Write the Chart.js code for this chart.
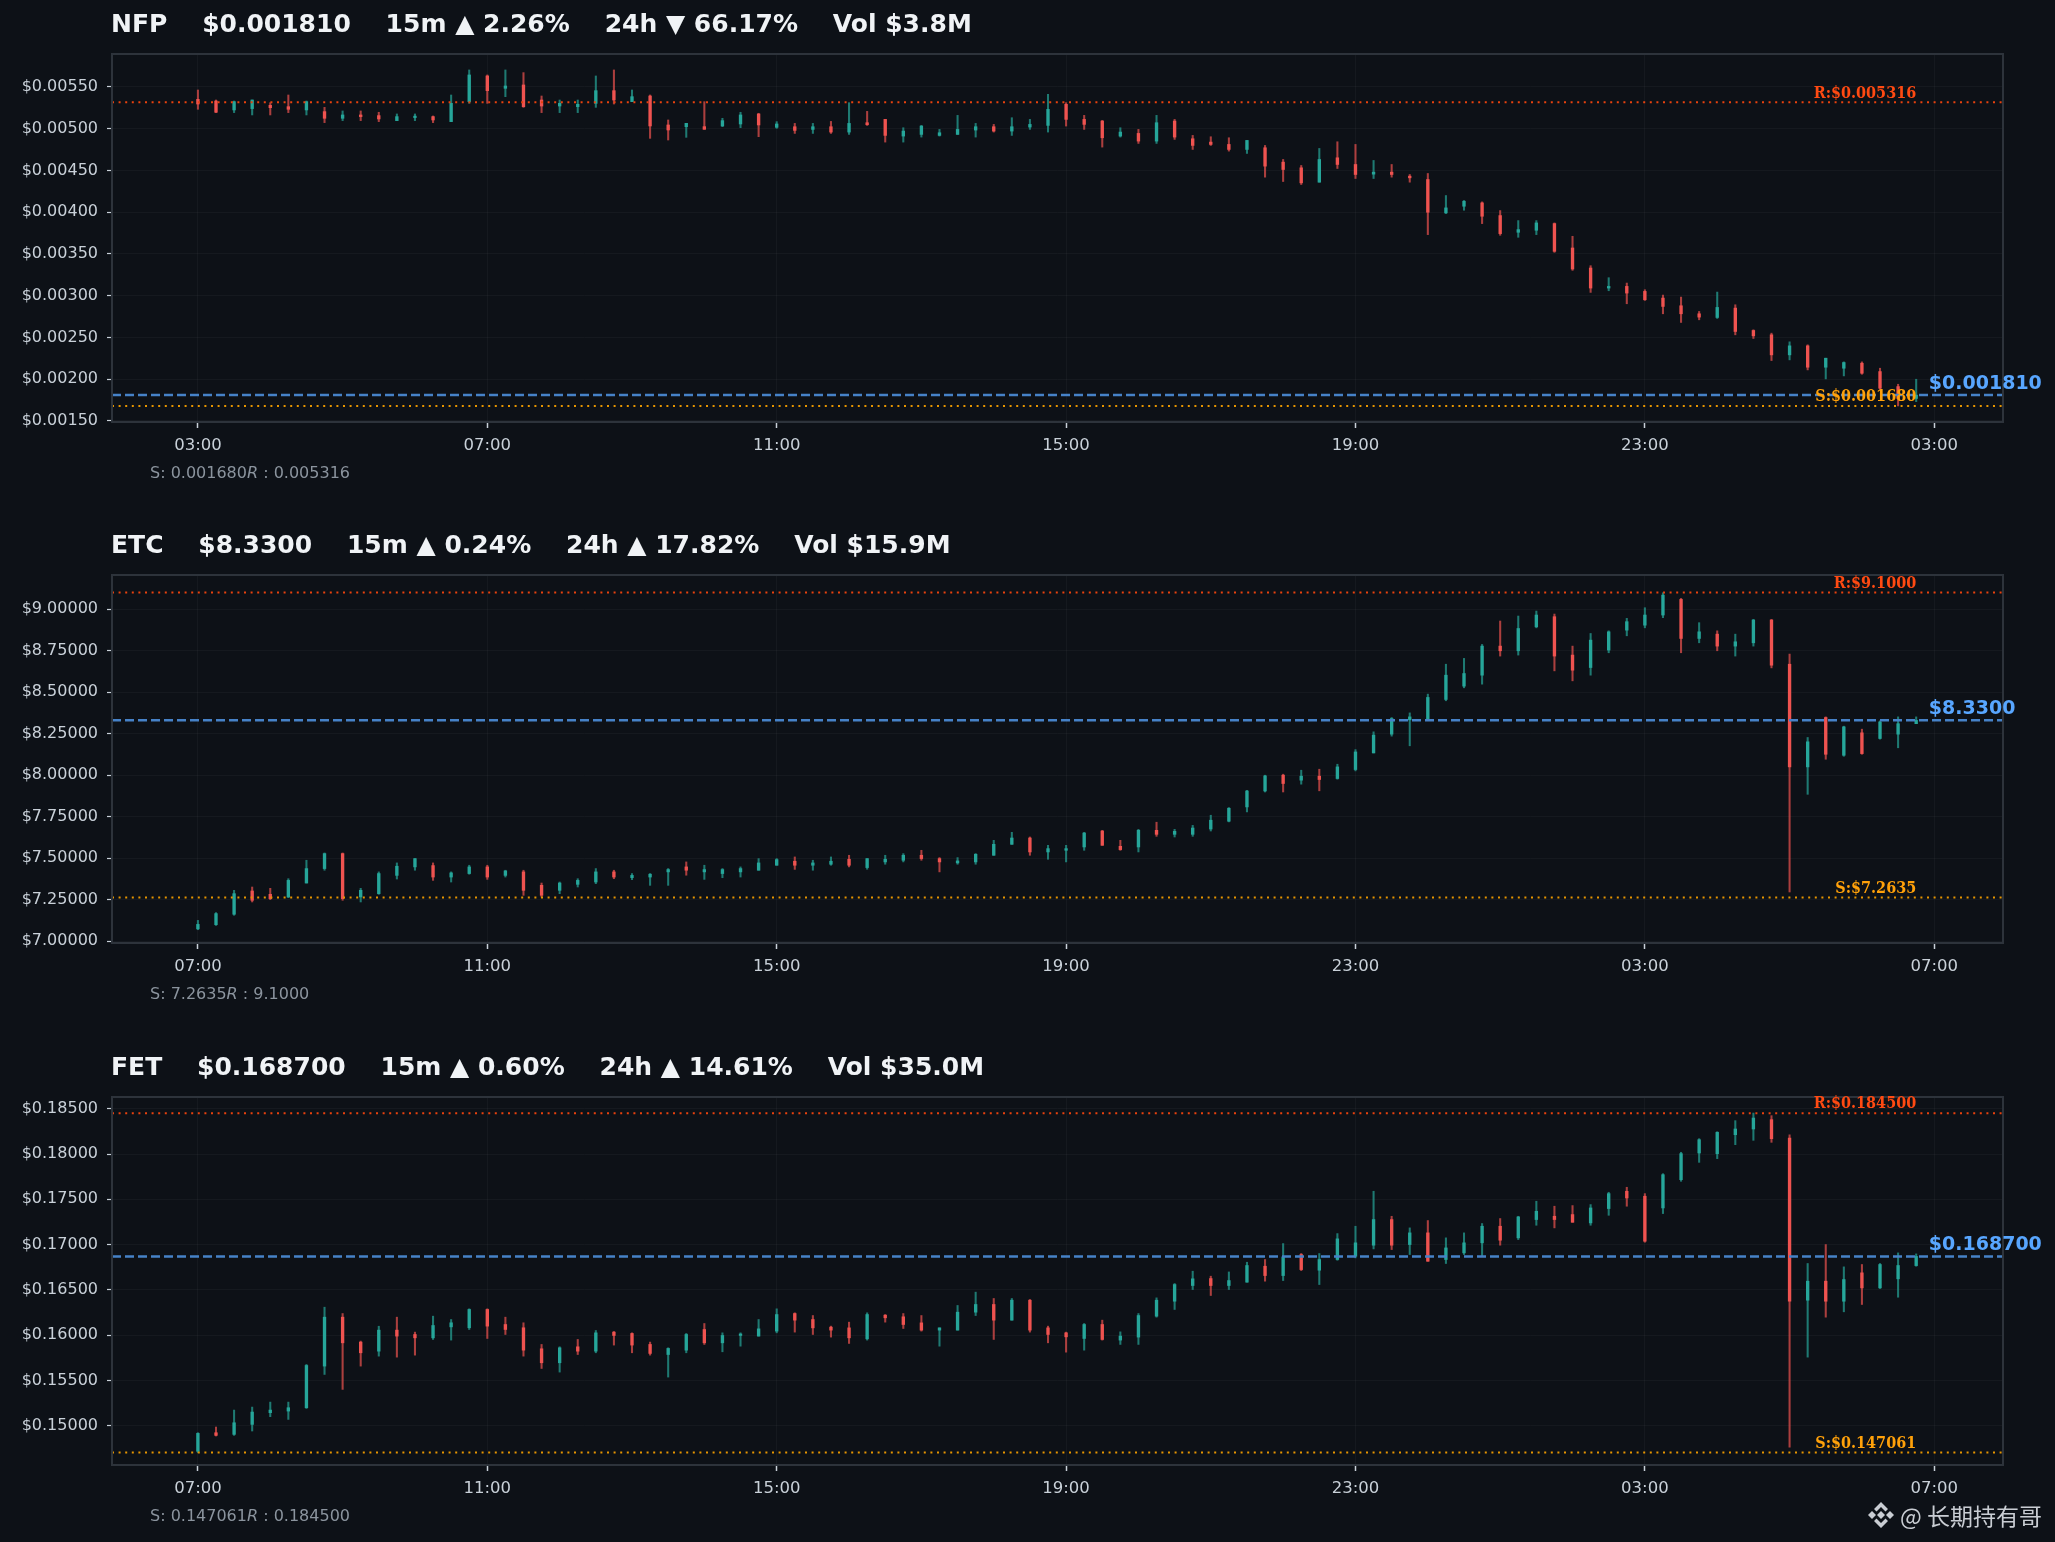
<!DOCTYPE html>
<html>
<head>
<meta charset="utf-8">
<script src="https://cdn.jsdelivr.net/npm/chart.js"></script>
<style>
  html, body { margin: 0; padding: 0; background: #0d1117; }
  body { width: 2055px; height: 1542px; position: relative; overflow: hidden; }
  canvas { position: absolute; left: 0; }
  #mark { position: absolute; left: 1866px; top: 1500px; height: 30px; display: flex; align-items: center;
          color: #c9cdd3; font: 23px "Noto Sans CJK SC", sans-serif; white-space: nowrap; }
  #mark svg { margin-right: 4px; }
</style>
</head>
<body>
<canvas id="c0" width="2055" height="521" style="top:0px"></canvas>
<canvas id="c1" width="2055" height="521" style="top:521px"></canvas>
<canvas id="c2" width="2055" height="499" style="top:1043px"></canvas>
<div id="mark">
  <svg width="30" height="30" viewBox="0 0 30 30">
    <g fill="#c9cdd3">
      <path d="M15 11 L19 15 L15 19 L11 15 Z"/>
      <path d="M6 11 L10 15 L6 19 L2 15 Z"/>
      <path d="M24 11 L28 15 L24 19 L20 15 Z"/>
      <path d="M15 2 L22 9 L19.5 11.5 L15 7 L10.5 11.5 L8 9 Z"/>
      <path d="M15 28 L22 21 L19.5 18.5 L15 23 L10.5 18.5 L8 21 Z"/>
    </g>
  </svg>
  <span>@ 长期持有哥</span>
</div>
<script>
// 15m candles, index 0 = first bar, 96 bars per 24h
const nfpTimeLabels = ['03:00', '07:00', '11:00', '15:00', '19:00', '23:00', '03:00'];
const altTimeLabels = ['07:00', '11:00', '15:00', '19:00', '23:00', '03:00', '07:00'];
const timeTickIdx = [0, 16, 32, 48, 64, 80, 96];

// NFP
const nfpOpen = [0.005352,0.005332,0.005225,0.005241,0.005280,0.005264,0.005225,0.005205,0.005125,0.005165,0.005157,0.005097,0.005133,0.005145,0.005085,0.005324,
  0.005632,0.005484,0.005524,0.005344,0.005272,0.005264,0.005304,0.005456,0.005324,0.005392,0.005045,0.005025,0.005025,0.005033,0.005057,0.005177,
  0.005017,0.005024,0.004992,0.005024,0.004960,0.005072,0.005112,0.004912,0.004932,0.004920,0.004932,0.004984,0.005024,0.004972,0.005020,0.005040,
  0.005292,0.005112,0.005092,0.004912,0.004944,0.004852,0.005092,0.004880,0.004840,0.004812,0.004752,0.004772,0.004600,0.004532,0.004360,0.004652,
  0.004572,0.004456,0.004480,0.004432,0.004392,0.003992,0.004072,0.004112,0.003960,0.003760,0.003784,0.003864,0.003572,0.003332,0.003092,0.003112,
  0.003052,0.002972,0.002880,0.002784,0.002740,0.002852,0.002584,0.002532,0.002292,0.002400,0.002144,0.002132,0.002192,0.002092,0.001912,0.001770];
const nfpHigh = [0.005464,0.005344,0.005332,0.005344,0.005312,0.005404,0.005332,0.005256,0.005213,0.005213,0.005197,0.005177,0.005177,0.005153,0.005404,0.005704,
  0.005644,0.005704,0.005672,0.005392,0.005344,0.005344,0.005632,0.005704,0.005464,0.005404,0.005105,0.005065,0.005324,0.005125,0.005197,0.005185,
  0.005085,0.005064,0.005064,0.005088,0.005312,0.005208,0.005112,0.005012,0.005040,0.004992,0.005160,0.005064,0.005052,0.005132,0.005112,0.005412,
  0.005312,0.005160,0.005100,0.005012,0.004992,0.005160,0.005112,0.004920,0.004904,0.004892,0.004860,0.004800,0.004632,0.004560,0.004764,0.004844,
  0.004812,0.004620,0.004572,0.004452,0.004464,0.004200,0.004140,0.004124,0.004020,0.003900,0.003900,0.003872,0.003712,0.003360,0.003216,0.003152,
  0.003072,0.003008,0.002984,0.002812,0.003044,0.002892,0.002592,0.002552,0.002448,0.002412,0.002252,0.002208,0.002208,0.002132,0.001940,0.002000];
const nfpLow = [0.005233,0.005193,0.005193,0.005165,0.005165,0.005193,0.005165,0.005073,0.005097,0.005097,0.005085,0.005097,0.005097,0.005073,0.005085,0.005304,
  0.005304,0.005384,0.005256,0.005193,0.005193,0.005193,0.005256,0.005296,0.005324,0.004885,0.004865,0.004897,0.004993,0.005025,0.005013,0.004905,
  0.005005,0.004944,0.004944,0.004944,0.004932,0.005040,0.004840,0.004840,0.004900,0.004912,0.004932,0.004900,0.004960,0.004920,0.004992,0.004960,
  0.005032,0.004992,0.004780,0.004900,0.004824,0.004824,0.004872,0.004752,0.004800,0.004732,0.004704,0.004420,0.004368,0.004332,0.004360,0.004524,
  0.004404,0.004404,0.004420,0.004360,0.003732,0.003984,0.004024,0.003864,0.003724,0.003700,0.003732,0.003520,0.003304,0.003040,0.003060,0.002904,
  0.002944,0.002784,0.002680,0.002712,0.002728,0.002532,0.002488,0.002224,0.002232,0.002112,0.002004,0.002040,0.002060,0.001880,0.001680,0.001732];
const nfpClose = [0.005296,0.005197,0.005324,0.005344,0.005252,0.005233,0.005324,0.005125,0.005165,0.005145,0.005117,0.005145,0.005145,0.005105,0.005304,0.005644,
  0.005456,0.005512,0.005264,0.005272,0.005304,0.005292,0.005456,0.005344,0.005384,0.005033,0.004985,0.005065,0.004993,0.005097,0.005165,0.005045,
  0.005057,0.004980,0.005024,0.004960,0.005064,0.005048,0.004920,0.004972,0.005032,0.004952,0.004992,0.005024,0.004972,0.005024,0.005052,0.005232,
  0.005112,0.005052,0.004892,0.004960,0.004852,0.005072,0.004900,0.004800,0.004812,0.004752,0.004860,0.004552,0.004512,0.004352,0.004632,0.004572,
  0.004452,0.004480,0.004452,0.004412,0.004000,0.004052,0.004132,0.003952,0.003744,0.003792,0.003872,0.003532,0.003320,0.003092,0.003112,0.003032,
  0.002952,0.002872,0.002784,0.002744,0.002860,0.002572,0.002520,0.002292,0.002400,0.002144,0.002252,0.002200,0.002072,0.001892,0.001770,0.001810];
const nfpYTicks = [0.0015, 0.0020, 0.0025, 0.0030, 0.0035, 0.0040, 0.0045, 0.0050, 0.0055];
const nfpLevels = { support: 0.001680, resist: 0.005316, last: 0.001810 };

// ETC
const etcOpen = [7.075,7.100,7.163,7.303,7.283,7.267,7.351,7.438,7.528,7.267,7.287,7.397,7.448,7.456,7.387,7.408,
  7.448,7.397,7.418,7.337,7.307,7.343,7.357,7.418,7.383,7.387,7.418,7.448,7.418,7.408,7.418,7.428,
  7.458,7.482,7.458,7.464,7.494,7.444,7.478,7.488,7.518,7.498,7.472,7.478,7.518,7.584,7.622,7.538,
  7.548,7.568,7.664,7.572,7.568,7.668,7.644,7.644,7.676,7.723,7.809,7.905,8.000,7.970,7.994,7.980,
  8.034,8.134,8.247,8.333,8.335,8.456,8.536,8.602,8.777,8.749,8.893,8.954,8.723,8.648,8.753,8.873,
  8.903,8.964,9.058,8.823,8.849,8.777,8.797,8.934,8.668,8.050,8.347,8.120,8.255,8.221,8.247,8.310];
const etcHigh = [7.126,7.173,7.307,7.327,7.319,7.377,7.488,7.532,7.532,7.319,7.418,7.472,7.498,7.472,7.418,7.458,
  7.458,7.428,7.428,7.351,7.357,7.377,7.438,7.428,7.408,7.408,7.438,7.478,7.458,7.438,7.448,7.498,
  7.498,7.508,7.488,7.508,7.518,7.498,7.518,7.528,7.548,7.504,7.504,7.528,7.608,7.656,7.628,7.578,
  7.578,7.656,7.668,7.608,7.674,7.717,7.674,7.698,7.759,7.805,7.909,8.000,8.006,8.030,8.036,8.066,
  8.154,8.261,8.347,8.375,8.488,8.668,8.703,8.787,8.928,8.958,8.988,8.970,8.777,8.853,8.869,8.944,
  9.008,9.098,9.064,8.918,8.869,8.849,8.938,8.938,8.729,8.227,8.351,8.295,8.277,8.327,8.351,8.351];
const etcLow = [7.070,7.096,7.157,7.237,7.251,7.263,7.351,7.428,7.247,7.237,7.283,7.375,7.428,7.367,7.357,7.404,
  7.373,7.387,7.277,7.267,7.287,7.327,7.347,7.377,7.371,7.337,7.337,7.398,7.373,7.383,7.387,7.428,
  7.458,7.433,7.428,7.458,7.448,7.434,7.464,7.478,7.488,7.418,7.464,7.464,7.518,7.584,7.518,7.494,
  7.478,7.548,7.578,7.548,7.538,7.632,7.628,7.632,7.664,7.719,7.779,7.899,7.899,7.946,7.906,7.976,
  8.026,8.134,8.235,8.177,8.331,8.448,8.526,8.548,8.717,8.723,8.887,8.628,8.568,8.602,8.737,8.839,
  8.887,8.948,8.737,8.797,8.749,8.717,8.777,8.646,7.297,7.885,8.096,8.114,8.126,8.217,8.165,8.310];
const etcClose = [7.102,7.167,7.287,7.247,7.257,7.367,7.438,7.528,7.257,7.307,7.408,7.452,7.498,7.387,7.412,7.448,
  7.387,7.424,7.307,7.277,7.351,7.367,7.418,7.387,7.397,7.404,7.432,7.428,7.432,7.432,7.438,7.472,
  7.492,7.458,7.472,7.482,7.458,7.498,7.494,7.518,7.498,7.478,7.484,7.524,7.584,7.622,7.538,7.558,
  7.558,7.652,7.578,7.552,7.668,7.644,7.662,7.682,7.729,7.801,7.905,7.996,7.950,7.994,7.974,8.050,
  8.140,8.241,8.341,8.351,8.468,8.602,8.612,8.777,8.749,8.883,8.964,8.717,8.632,8.813,8.863,8.924,
  8.964,9.084,8.823,8.863,8.777,8.803,8.934,8.662,8.050,8.201,8.126,8.291,8.130,8.321,8.310,8.330];
const etcYTicks = [7.00, 7.25, 7.50, 7.75, 8.00, 8.25, 8.50, 8.75, 9.00];
const etcLevels = { support: 7.2635, resist: 9.1000, last: 8.3300 };

// FET
const fetOpen = [0.14720,0.14925,0.14907,0.15017,0.15146,0.15164,0.15201,0.15660,0.16200,0.15925,0.15825,0.16057,0.16009,0.15972,0.16093,0.16083,
  0.16285,0.16119,0.16083,0.15851,0.15697,0.15873,0.15825,0.16035,0.16020,0.15899,0.15788,0.15836,0.16064,0.15917,0.15998,0.15991,
  0.16046,0.16240,0.16174,0.16090,0.16082,0.15961,0.16222,0.16204,0.16137,0.16057,0.16057,0.16255,0.16340,0.16167,0.16387,0.16082,
  0.16027,0.15965,0.16119,0.15947,0.15980,0.16211,0.16376,0.16549,0.16626,0.16549,0.16586,0.16762,0.16659,0.16891,0.16718,0.16836,
  0.16872,0.16994,0.17277,0.17001,0.17130,0.16836,0.16909,0.17020,0.17203,0.17075,0.17277,0.17313,0.17332,0.17240,0.17398,0.17589,
  0.17534,0.17405,0.17717,0.18011,0.18004,0.18213,0.18276,0.18379,0.18177,0.16387,0.16597,0.16376,0.16689,0.16523,0.16623,0.16769];
const fetHigh = [0.14925,0.14988,0.15175,0.15208,0.15263,0.15263,0.15678,0.16310,0.16240,0.15936,0.16100,0.16200,0.16035,0.16211,0.16174,0.16292,
  0.16292,0.16200,0.16138,0.15899,0.15873,0.15954,0.16053,0.16042,0.16027,0.15925,0.15862,0.16020,0.16130,0.16027,0.16027,0.16174,
  0.16292,0.16248,0.16218,0.16101,0.16145,0.16248,0.16229,0.16240,0.16218,0.16082,0.16329,0.16476,0.16406,0.16406,0.16395,0.16101,
  0.16035,0.16130,0.16167,0.16038,0.16240,0.16413,0.16571,0.16707,0.16652,0.16699,0.16806,0.16836,0.17012,0.16902,0.16902,0.17122,
  0.17203,0.17589,0.17313,0.17185,0.17266,0.17075,0.17130,0.17233,0.17288,0.17313,0.17479,0.17424,0.17431,0.17442,0.17578,0.17633,
  0.17563,0.17783,0.18019,0.18169,0.18246,0.18368,0.18452,0.18423,0.18213,0.16792,0.17001,0.16755,0.16781,0.16792,0.16909,0.16898];
const fetLow = [0.14706,0.14889,0.14896,0.14944,0.15102,0.15072,0.15193,0.15568,0.15403,0.15660,0.15770,0.15759,0.15781,0.15954,0.15947,0.16064,
  0.15965,0.16009,0.15770,0.15634,0.15594,0.15788,0.15807,0.15892,0.15807,0.15781,0.15539,0.15807,0.15899,0.15818,0.15880,0.15991,
  0.16027,0.16035,0.16009,0.15980,0.15910,0.15947,0.16145,0.16075,0.16046,0.15880,0.16057,0.16218,0.15954,0.16167,0.16035,0.15917,
  0.15814,0.15836,0.15947,0.15899,0.15899,0.16200,0.16285,0.16505,0.16439,0.16505,0.16586,0.16597,0.16604,0.16714,0.16560,0.16828,
  0.16854,0.16953,0.16946,0.16891,0.16817,0.16792,0.16891,0.16872,0.16994,0.17056,0.17214,0.17185,0.17247,0.17214,0.17324,0.17424,
  0.17027,0.17343,0.17699,0.17908,0.17949,0.18103,0.18151,0.18129,0.14767,0.15759,0.16200,0.16259,0.16340,0.16516,0.16420,0.16762];
const fetClose = [0.14918,0.14896,0.15035,0.15153,0.15175,0.15201,0.15667,0.16200,0.15917,0.15807,0.16057,0.15991,0.15972,0.16108,0.16138,0.16285,
  0.16101,0.16064,0.15836,0.15697,0.15862,0.15825,0.16027,0.15998,0.15892,0.15800,0.15855,0.16009,0.15917,0.15998,0.16009,0.16071,
  0.16229,0.16167,0.16082,0.16057,0.15972,0.16229,0.16193,0.16119,0.16057,0.16082,0.16255,0.16340,0.16167,0.16387,0.16057,0.16009,
  0.15983,0.16119,0.15954,0.15991,0.16218,0.16387,0.16560,0.16623,0.16549,0.16604,0.16770,0.16659,0.16865,0.16725,0.16836,0.17064,
  0.17020,0.17277,0.16994,0.17130,0.16817,0.16964,0.17020,0.17203,0.17049,0.17306,0.17368,0.17277,0.17247,0.17405,0.17563,0.17515,
  0.17038,0.17772,0.18004,0.18158,0.18239,0.18276,0.18397,0.18169,0.16376,0.16597,0.16376,0.16615,0.16523,0.16781,0.16770,0.16870];
const fetYTicks = [0.150, 0.155, 0.160, 0.165, 0.170, 0.175, 0.180, 0.185];
const fetLevels = { support: 0.147061, resist: 0.184500, last: 0.168700 };

const UP = '#26a69a', DOWN = '#ef5350';
const UP_WICK = 'rgba(38,166,154,0.7)', DOWN_WICK = 'rgba(239,83,80,0.7)';
const X_MIN = -4.75, X_MAX = 99.8;

Chart.defaults.font.family = '"DejaVu Sans", sans-serif';
Chart.defaults.color = '#c9d1d9';

function levelLine(v, color, dash, width) {
  return { type: 'line', data: [{ x: X_MIN, y: v }, { x: X_MAX, y: v }], borderColor: color,
    borderDash: dash, borderWidth: width, pointRadius: 0, fill: false };
}

function candleSets(open, high, low, close) {
  const up = close.map((c, i) => c >= open[i]);
  return [
    { type: 'bar', data: open.map((o, i) => ({ x: i, y: [o, close[i]] })),
      backgroundColor: up.map(u => u ? UP : DOWN), barThickness: 2.7, minBarLength: 1.5,
      grouped: false, borderWidth: 0 },
    { type: 'bar', data: low.map((l, i) => ({ x: i, y: [l, high[i]] })),
      backgroundColor: up.map(u => u ? UP_WICK : DOWN_WICK), barThickness: 1.4,
      grouped: false, borderWidth: 0 }
  ];
}

function decor(p) {
  return {
    id: 'decor',
    afterDatasetsDraw(chart) {
      const a = chart.chartArea, ctx = chart.ctx;
      ctx.save();
      ctx.strokeStyle = '#2d333b';
      ctx.lineWidth = 2;
      ctx.strokeRect(a.left, a.top, a.right - a.left, a.bottom - a.top);
      ctx.restore();
    },
    afterDraw(chart) {
      const ctx = chart.ctx, xs = chart.scales.x, ys = chart.scales.y;
      ctx.save();
      // title
      ctx.fillStyle = '#f0f3f6';
      ctx.font = 'bold 25px "DejaVu Sans"';
      ctx.textBaseline = 'middle';
      ctx.textAlign = 'left';
      ctx.fillText(p.title, 111, 25);
      // subtitle with mathtext-ish italic R
      ctx.fillStyle = '#8b949e';
      ctx.font = '16px "DejaVu Sans"';
      let x = 150;
      const s1 = 'S: ' + p.sText;
      ctx.fillText(s1, x, 474); x += ctx.measureText(s1).width;
      ctx.font = 'italic 16px "DejaVu Sans"';
      ctx.fillText('R', x, 474); x += ctx.measureText('R').width;
      ctx.font = '16px "DejaVu Sans"';
      ctx.fillText(' : ' + p.rText, x, 474);
      // R / S labels
      const xr = xs.getPixelForValue(95);
      ctx.font = 'bold 16px "DejaVu Serif Condensed", "DejaVu Serif", serif';
      ctx.textAlign = 'right';
      ctx.textBaseline = 'bottom';
      ctx.fillStyle = '#ff4a12';
      ctx.fillText('R:$' + p.rText, xr, ys.getPixelForValue(p.levels.resist) - 1);
      ctx.fillStyle = '#ffa10a';
      ctx.fillText('S:$' + p.sText, xr, ys.getPixelForValue(p.levels.support) - 1);
      // last price
      ctx.font = 'bold 19px "DejaVu Sans"';
      ctx.textAlign = 'left';
      ctx.fillStyle = '#58a6ff';
      ctx.fillText('$' + p.lastText, xs.getPixelForValue(95.7), ys.getPixelForValue(p.levels.last) - 2);
      ctx.restore();
    }
  };
}

const panels = [
  { canvas: 'c0', title: 'NFP    $0.001810    15m \u25B2 2.26%    24h \u25BC 66.17%    Vol $3.8M',
    o: nfpOpen, h: nfpHigh, l: nfpLow, c: nfpClose, levels: nfpLevels, yTicks: nfpYTicks,
    yMin: 0.001488, yMax: 0.005895, labels: nfpTimeLabels, sText: '0.001680', rText: '0.005316', lastText: '0.001810' },
  { canvas: 'c1', title: 'ETC    $8.3300    15m \u25B2 0.24%    24h \u25B2 17.82%    Vol $15.9M',
    o: etcOpen, h: etcHigh, l: etcLow, c: etcClose, levels: etcLevels, yTicks: etcYTicks,
    yMin: 6.990, yMax: 9.205, labels: altTimeLabels, sText: '7.2635', rText: '9.1000', lastText: '8.3300' },
  { canvas: 'c2', title: 'FET    $0.168700    15m \u25B2 0.60%    24h \u25B2 14.61%    Vol $35.0M',
    o: fetOpen, h: fetHigh, l: fetLow, c: fetClose, levels: fetLevels, yTicks: fetYTicks,
    yMin: 0.14569, yMax: 0.18629, labels: altTimeLabels, sText: '0.147061', rText: '0.184500', lastText: '0.168700' }
];

panels.forEach(p => {
  const el = document.getElementById(p.canvas);
  const H = el.height;
  new Chart(el, {
    type: 'bar',
    data: {
      datasets: [
        levelLine(p.levels.last, '#4682c8', [9, 4], 2.5),
        levelLine(p.levels.resist, '#e8420e', [2, 4.6], 2),
        levelLine(p.levels.support, '#e69500', [2, 4.6], 2),
        ...candleSets(p.o, p.h, p.l, p.c)
      ]
    },
    options: {
      responsive: false,
      animation: false,
      devicePixelRatio: 1,
      layout: { padding: { left: 0, right: 52, top: 54, bottom: H - 422 - 40 } },
      plugins: { legend: { display: false }, tooltip: { enabled: false } },
      scales: {
        x: {
          type: 'linear', min: X_MIN, max: X_MAX, offset: false,
          afterBuildTicks: s => { s.ticks = timeTickIdx.map(v => ({ value: v })); },
          afterFit: s => { s.height = 40; },
          grid: { offset: false, color: 'rgba(255,255,255,0.035)', tickColor: '#c9d1d9', tickLength: 6, tickWidth: 1.5 },
          border: { display: false },
          ticks: { autoSkip: false, maxRotation: 0, padding: 8, color: '#c9d1d9',
                   font: { size: 16.5 }, callback: (v, i) => p.labels[i] }
        },
        y: {
          type: 'linear', min: p.yMin, max: p.yMax,
          afterBuildTicks: s => { s.ticks = p.yTicks.map(v => ({ value: v })); },
          afterFit: s => { s.width = 112; },
          grid: { color: 'rgba(255,255,255,0.035)', tickColor: '#c9d1d9', tickLength: 5, tickWidth: 1.2 },
          border: { display: false },
          ticks: { padding: 9, color: '#c9d1d9', font: { size: 16 },
                   callback: v => '$' + v.toFixed(5) }
        }
      }
    },
    plugins: [decor(p)]
  });
});
</script>
</body>
</html>
